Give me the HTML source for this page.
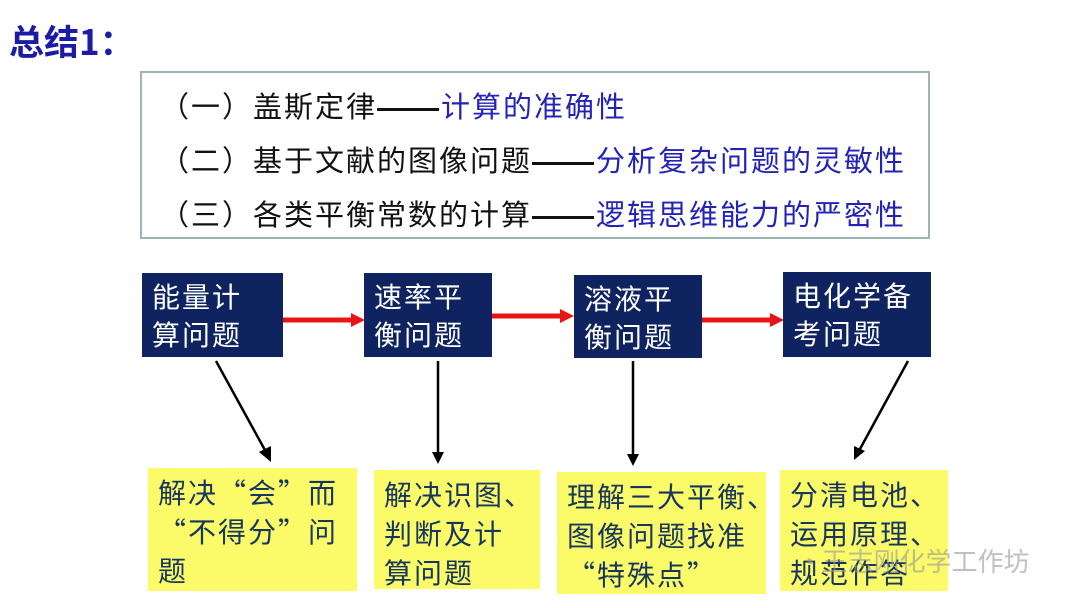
<!DOCTYPE html>
<html><head><meta charset="utf-8"><style>
body{margin:0;width:1080px;height:608px;background:#fff;position:relative;overflow:hidden;font-family:"Liberation Sans","Noto Sans CJK SC",sans-serif}
.a{position:absolute;white-space:nowrap}
.t{position:absolute;left:9px;top:18px;font-size:35px;font-weight:bold;color:#1b1ba6;font-family:"Noto Sans CJK SC",sans-serif;line-height:46px}
.box{position:absolute;left:140px;top:71px;width:790px;height:168px;border:2px solid #9bb5b5;box-sizing:border-box}
.ln{position:absolute;left:160px;font-size:29px;letter-spacing:2px;line-height:36px;color:#111;font-family:"Noto Sans CJK SC",sans-serif}
.ln span{color:#2323b8}
.ln i{display:inline-block;width:62px;height:3px;background:#111;vertical-align:middle;margin:0 2px 0 0}
.nv{position:absolute;background:#0e2360;color:#fff;font-size:28px;line-height:38px;padding:4px 0 0 10px;box-sizing:border-box;font-family:"Noto Sans CJK SC",sans-serif;letter-spacing:2px}
.yl{position:absolute;background:#fbfb6a;color:#17365d;font-size:28px;line-height:39px;padding:5px 0 0 10px;box-sizing:border-box;font-family:"Noto Sans CJK SC",sans-serif;letter-spacing:2px;white-space:nowrap}
</style></head><body>
<div class="t">总结1：</div>
<div class="box"></div>
<div class="ln" style="top:87px">（一）盖斯定律<i></i><span>计算的准确性</span></div>
<div class="ln" style="top:141px">（二）基于文献的图像问题<i></i><span>分析复杂问题的灵敏性</span></div>
<div class="ln" style="top:195px">（三）各类平衡常数的计算<i></i><span>逻辑思维能力的严密性</span></div>

<div class="nv" style="left:142px;top:273px;width:141px;height:84px">能量计<br>算问题</div>
<div class="nv" style="left:364px;top:273px;width:128px;height:84px">速率平<br>衡问题</div>
<div class="nv" style="left:574px;top:275px;width:128px;height:83px">溶液平<br>衡问题</div>
<div class="nv" style="left:783px;top:272px;width:148px;height:85px">电化学备<br>考问题</div>

<div class="yl" style="left:148px;top:468px;width:209px;height:123px">解决“会”而<br>“不得分”问<br>题</div>
<div class="yl" style="left:374px;top:470px;width:166px;height:119px">解决识图、<br>判断及计<br>算问题</div>
<div class="yl" style="left:557px;top:472px;width:209px;height:122px">理解三大平衡、<br>图像问题找准<br>“特殊点”</div>
<div class="yl" style="left:780px;top:470px;width:168px;height:121px">分清电池、<br>运用原理、<br>规范作答</div>

<svg class="a" style="left:0;top:0" width="1080" height="608">
<g stroke="#e81515" stroke-width="5" fill="none">
<line x1="283" y1="320" x2="352" y2="320"/><line x1="492" y1="316" x2="561" y2="316"/><line x1="702" y1="320" x2="771" y2="320"/>
</g>
<g fill="#e81515">
<path d="M351,313 L365,320 L351,327z"/><path d="M560,309 L574,316 L560,323z"/><path d="M770,313 L784,320 L770,327z"/>
</g>
<g stroke="#000" stroke-width="2.5">
<line x1="216" y1="361" x2="266" y2="452"/><line x1="438" y1="361" x2="438" y2="453"/>
<line x1="633" y1="361" x2="633" y2="455"/><line x1="908" y1="361" x2="860" y2="449"/>
</g>
<g fill="#000">
<path d="M259,452 L271,462 L271,446z"/><path d="M432,452 L438,464 L444,452z"/>
<path d="M627,454 L633,466 L639,454z"/><path d="M854,446 L854,460 L865,451z"/>
</g>
</svg>
<div class="a" style="left:800px;top:542px;font-size:26px;color:rgba(150,150,150,0.6);font-family:'Noto Sans CJK SC',sans-serif">◔ 王志刚化学工作坊</div>
</body></html>
